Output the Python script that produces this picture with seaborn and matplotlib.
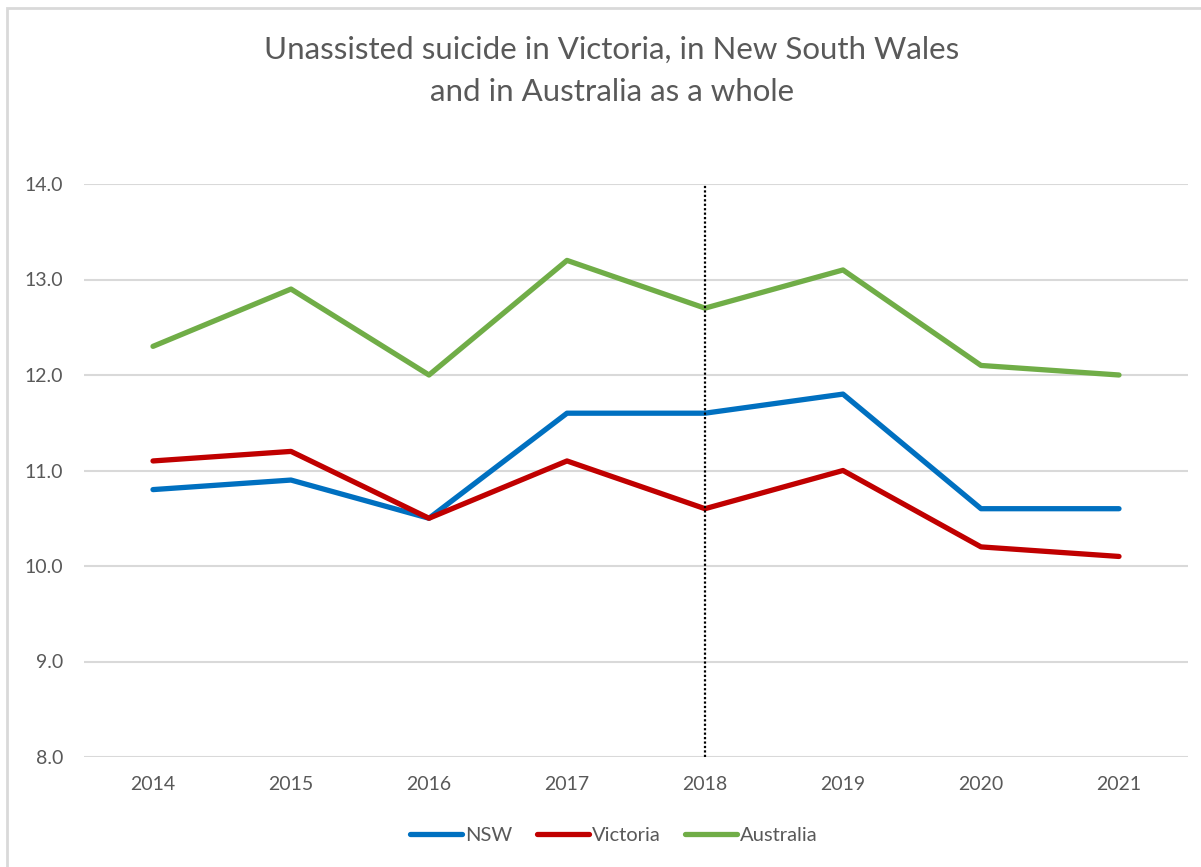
import matplotlib
matplotlib.use("Agg")
import matplotlib.pyplot as plt
import seaborn as sns
import pandas as pd
from matplotlib.patches import Rectangle

years = ["2014", "2015", "2016", "2017", "2018", "2019", "2020", "2021"]
nsw = [10.8, 10.9, 10.5, 11.6, 11.6, 11.8, 10.6, 10.6]
victoria = [11.1, 11.2, 10.5, 11.1, 10.6, 11.0, 10.2, 10.1]
australia = [12.3, 12.9, 12.0, 13.2, 12.7, 13.1, 12.1, 12.0]
series_names = ["NSW", "Victoria", "Australia"]
series_colors = ["#0070C0", "#C00000", "#70AD47"]
marker_year = "2018"

sns.set_theme(style="white")
plt.rcParams["font.family"] = ["Lato", "DejaVu Sans"]

rows = []
for name, vals in zip(series_names, [nsw, victoria, australia]):
    for i, (y, v) in enumerate(zip(years, vals)):
        rows.append({"idx": i, "year": y, "rate": v, "region": name})
df = pd.DataFrame(rows)

fig = plt.figure(figsize=(12.01, 8.67), dpi=100)
ax = fig.add_axes([84 / 1201, 110 / 867, 1104 / 1201, 573 / 867])

# outer chart frame
fig.patches.append(Rectangle((7 / 1201, -0.1), 1.2, (867 - 8) / 867 + 0.1,
                             transform=fig.transFigure, fill=False,
                             edgecolor="#D9D9D9", linewidth=2))

yticks = [8, 9, 10, 11, 12, 13, 14]
for v in yticks:
    ax.axhline(v, color="#D9D9D9", linewidth=1.5, zorder=0)

sns.lineplot(data=df, x="idx", y="rate", hue="region", hue_order=series_names,
             palette=series_colors, linewidth=3.8, ax=ax, legend=False,
             solid_capstyle="round")

xi = years.index(marker_year)
ax.vlines(xi, 8, 14, colors="black", linestyles=(0, (1, 1)), linewidth=1.6, zorder=5)

ax.set_xlim(-0.5, len(years) - 0.5)
ax.set_ylim(8, 14)
ax.set_xticks(range(len(years)))
ax.set_xticklabels(years)
ax.set_yticks(yticks)
ax.set_yticklabels([f"{v:.1f}" for v in yticks])
ax.tick_params(axis="both", length=0, labelsize=14, labelcolor="#595959")
ax.tick_params(axis="x", pad=14)
ax.tick_params(axis="y", pad=15)
for s in ax.spines.values():
    s.set_visible(False)
ax.set_xlabel("")
ax.set_ylabel("")

fig.text(612 / 1201, 1 - 50 / 867, "Unassisted suicide in Victoria, in New South Wales",
         ha="center", va="center", fontsize=22.5, color="#595959")
fig.text(612 / 1201, 1 - 92 / 867, "and in Australia as a whole",
         ha="center", va="center", fontsize=22.5, color="#595959")

handles = [plt.Line2D([0], [0], color=c, linewidth=3.8, solid_capstyle="round")
           for c in series_colors]
fig.legend(handles, series_names, loc="center", bbox_to_anchor=(614 / 1201, 1 - 835 / 867),
           ncol=3, frameon=False, fontsize=14.5, labelcolor="#595959",
           handlelength=2.6, handletextpad=0.15, columnspacing=1.2)

fig.savefig("out.png", dpi=100, facecolor="white")
